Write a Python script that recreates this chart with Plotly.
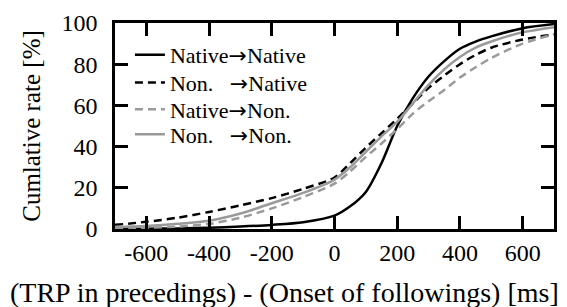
import plotly.graph_objects as go

x_ms = [-700, -600, -500, -400, -300, -200, -100, 0, 50, 100, 150, 200, 250, 300, 350, 400, 450, 500, 600, 700]

native_native = [0.0, 0.1, 0.3, 0.6, 1.2, 2.0, 3.3, 6.5, 11, 18, 32, 50, 63.5, 74, 81.5, 87.5, 91, 93.5, 97.5, 99.5]
non_native = [2.0, 3.5, 5.5, 8.3, 11.5, 15, 19.5, 25, 32, 39.5, 46.5, 53.5, 61, 68.5, 74.5, 80, 84.5, 88, 92, 94.5]
native_non = [0.3, 0.6, 1.2, 2.5, 5.5, 10, 15.5, 22, 28, 35, 41.5, 48.5, 56, 62, 67.5, 73.5, 78.5, 83, 90, 94.5]
non_non = [1.0, 1.5, 2.5, 4.0, 7.5, 12.5, 17.5, 24, 30, 37.5, 45, 52, 61, 70, 77.5, 83.5, 88, 91, 95.5, 98]

ARROW = "<span style='font-family:DejaVu Sans'>\u2192</span>"
SP = "\u00a0\u00a0\u00a0"
names = ["Native" + ARROW + "Native", "Non." + SP + ARROW + "Native",
         "Native" + ARROW + "Non.", "Non." + SP + ARROW + "Non."]
x_ticks = [-600, -400, -200, 0, 200, 400, 600]
y_ticks = [0, 20, 40, 60, 80, 100]

FONT = "Liberation Serif"
GRAY = "#9a9a9a"

fig = go.Figure()
series = [
    (native_native, names[0], "black", "solid", "legend"),
    (non_native, names[1], "black", "8px,5px", "legend2"),
    (native_non, names[2], GRAY, "8px,5px", "legend3"),
    (non_non, names[3], GRAY, "solid", "legend4"),
]
for ys, nm, col, dash, lg in series:
    fig.add_trace(go.Scatter(x=x_ms, y=ys, name=nm, mode="lines", legend=lg,
                             line=dict(color=col, width=2.5, dash=dash, shape="spline", smoothing=0.8)))

axis_common = dict(showline=True, linecolor="black", linewidth=2.5, mirror="ticks",
                   ticks="inside", ticklen=13, tickwidth=2.5, tickcolor="black",
                   showgrid=False, zeroline=False,
                   tickfont=dict(family=FONT, size=24, color="black"))

fig.update_xaxes(range=[-700, 700], tickvals=x_ticks, ticktext=[str(v) for v in x_ticks],
                 ticklabelstandoff=0, **axis_common)
fig.update_yaxes(range=[0, 100], tickvals=y_ticks, ticktext=[str(v) for v in y_ticks],
                 ticklabelstandoff=10,
                 title=dict(text="Cumlative rate [%]", font=dict(family=FONT, size=25, color="black"), standoff=14),
                 **axis_common)

fig.add_annotation(text="(TRP in precedings) - (Onset of followings) [ms]", xref="paper", yref="paper",
                   x=0.385, y=-0.31, xanchor="center", yanchor="middle", showarrow=False,
                   font=dict(family=FONT, size=28, color="black"))

leg_common = dict(x=0.034, xanchor="left", yanchor="middle", bgcolor="rgba(0,0,0,0)",
                  font=dict(family=FONT, size=22, color="black"), itemwidth=30)
fig.update_layout(
    width=567, height=307,
    margin=dict(l=115, r=10, t=22, b=78),
    paper_bgcolor="white", plot_bgcolor="white",
    showlegend=True,
    legend=dict(y=0.845, **leg_common),
    legend2=dict(y=0.710, **leg_common),
    legend3=dict(y=0.580, **leg_common),
    legend4=dict(y=0.459, **leg_common),
    font=dict(family=FONT, color="black"),
)

fig.write_html("out.html", config={"displayModeBar": False},
               post_script="document.body.style.margin='0';")
